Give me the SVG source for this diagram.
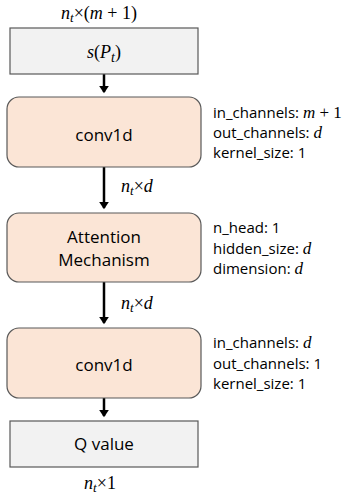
<svg xmlns="http://www.w3.org/2000/svg" width="356" height="497" viewBox="0 0 356 497">
<style>
.gbox{fill:#f2f2f2;stroke:#595959;stroke-width:1.2}
.obox{fill:#fbe5d6;stroke:#595959;stroke-width:1.2}
.lbl{font-family:"Open Sans","Noto Sans",sans-serif;font-size:17px;fill:#000;text-anchor:middle}
.side{font-family:"Open Sans","Noto Sans",sans-serif;font-size:15px;fill:#000}
.m{font-family:"Liberation Serif","DejaVu Serif",serif;font-style:italic}
.sm{font-family:"Liberation Serif","DejaVu Serif",serif;font-style:italic;font-size:17px}
.r{font-family:"Liberation Serif","DejaVu Serif",serif;font-style:normal;font-size:17px}
.math{font-family:"Liberation Serif","DejaVu Serif",serif;font-size:18px;fill:#000}
.conn{stroke:#000;stroke-width:2.5;fill:none;marker-end:url(#ah)}
</style>
<defs>
<marker id="ah" markerWidth="4" markerHeight="4" refX="2.5" refY="2" orient="auto" markerUnits="strokeWidth">
<path d="M0,0 L3,2 L0,4 z" fill="#000"/>
</marker>
</defs>
<g id="connectors">
<line class="conn" x1="104" y1="74" x2="104" y2="92"/>
<line class="conn" x1="104" y1="167" x2="104" y2="208"/>
<line class="conn" x1="104" y1="282" x2="104" y2="323"/>
<line class="conn" x1="104" y1="398" x2="104" y2="416"/>
</g>
<g id="lbl-in">
<text class="math" x="99" y="19" text-anchor="middle"><tspan class="m">n</tspan><tspan class="m" font-size="13" dy="3">t</tspan><tspan dy="-3">×(</tspan><tspan class="m">m</tspan><tspan> + 1)</tspan></text>
</g>
<g id="node-s">
<rect class="gbox" x="10" y="28" width="188" height="46"/>
<text class="math" x="104" y="58" text-anchor="middle" font-size="20"><tspan class="m">s</tspan><tspan>(</tspan><tspan class="m">P</tspan><tspan class="m" font-size="14" dy="4">t</tspan><tspan dy="-4">)</tspan></text>
</g>
<g id="node-conv1">
<rect class="obox" x="7" y="97" width="194" height="70" rx="12"/>
<text class="lbl" x="104" y="141">conv1d</text>
<text class="side" x="213" y="118">in_channels: <tspan class="sm">m</tspan><tspan class="r"> + 1</tspan></text>
<text class="side" x="213" y="138">out_channels: <tspan class="sm">d</tspan></text>
<text class="side" x="213" y="158">kernel_size: 1</text>
</g>
<g id="lbl-1">
<text class="math" x="121" y="192"><tspan class="m">n</tspan><tspan class="m" font-size="13" dy="3">t</tspan><tspan dy="-3">×</tspan><tspan class="m">d</tspan></text>
</g>
<g id="node-att">
<rect class="obox" x="7" y="213" width="194" height="69" rx="12"/>
<text class="lbl" x="104" y="243">Attention</text>
<text class="lbl" x="104" y="266">Mechanism</text>
<text class="side" x="213" y="233">n_head: 1</text>
<text class="side" x="213" y="254">hidden_size: <tspan class="sm">d</tspan></text>
<text class="side" x="213" y="274">dimension: <tspan class="sm">d</tspan></text>
</g>
<g id="lbl-2">
<text class="math" x="121" y="309"><tspan class="m">n</tspan><tspan class="m" font-size="13" dy="3">t</tspan><tspan dy="-3">×</tspan><tspan class="m">d</tspan></text>
</g>
<g id="node-conv2">
<rect class="obox" x="7" y="328" width="194" height="70" rx="12"/>
<text class="lbl" x="104" y="371">conv1d</text>
<text class="side" x="213" y="348">in_channels: <tspan class="sm">d</tspan></text>
<text class="side" x="213" y="369">out_channels: 1</text>
<text class="side" x="213" y="389">kernel_size: 1</text>
</g>
<g id="node-q">
<rect class="gbox" x="10" y="421" width="188" height="46"/>
<text class="lbl" x="104" y="450">Q value</text>
</g>
<g id="lbl-out">
<text class="math" x="100" y="489" text-anchor="middle"><tspan class="m">n</tspan><tspan class="m" font-size="13" dy="3">t</tspan><tspan dy="-3">×1</tspan></text>
</g>
</svg>
